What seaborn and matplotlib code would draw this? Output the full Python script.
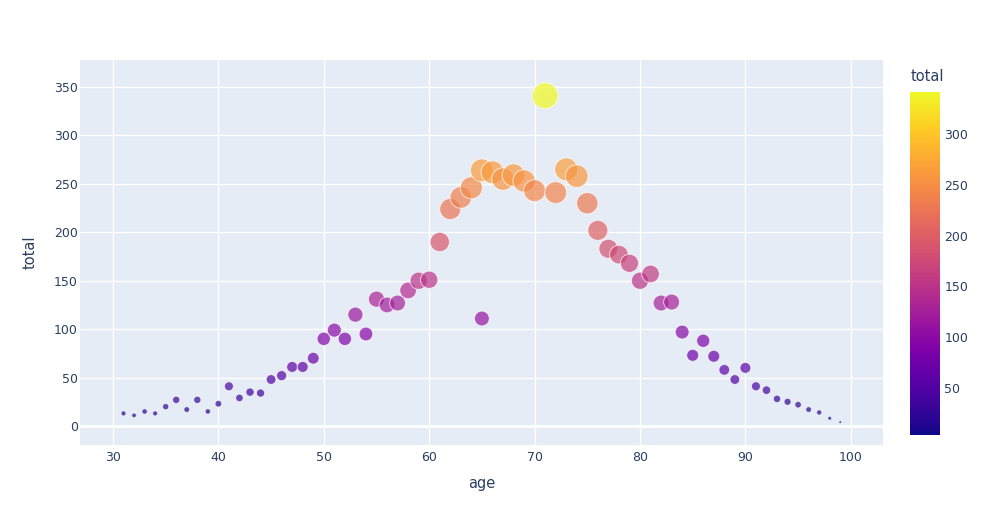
import numpy as np
import pandas as pd
import seaborn as sns
import matplotlib.pyplot as plt
import matplotlib as mpl

# values
age = [31, 32, 33, 34, 35, 36, 37, 38, 39, 40,
       41, 42, 43, 44, 45, 46, 47, 48, 49, 50,
       51, 52, 53, 54, 55, 56, 57, 58, 59, 60,
       61, 62, 63, 64, 65, 65, 66, 67, 68, 69, 70,
       71, 72, 73, 74, 75, 76, 77, 78, 79, 80,
       81, 82, 83, 84, 85, 86, 87, 88, 89, 90,
       91, 92, 93, 94, 95, 96, 97, 98, 99]
total = [13, 11, 15, 13, 20, 27, 17, 27, 15, 23,
         41, 29, 35, 34, 48, 52, 61, 61, 70, 90,
         99, 90, 115, 95, 131, 125, 127, 140, 150, 151,
         190, 224, 236, 246, 264, 111, 262, 255, 259, 253, 243,
         341, 241, 265, 258, 230, 202, 183, 177, 168, 150,
         157, 127, 128, 97, 73, 88, 72, 58, 48, 60,
         41, 37, 28, 25, 22, 17, 14, 8, 4]
cbar_ticks = [50, 100, 150, 200, 250, 300]

data = pd.DataFrame({'age': age, 'total': total})
vmin, vmax = min(total), max(total)

sns.set_style('darkgrid', {'axes.facecolor': '#E5ECF6', 'grid.color': 'white'})
plt.rcParams['font.family'] = ['DejaVu Sans']
txt = '#2a3f5f'

fig = plt.figure(figsize=(9.85, 5.25), dpi=100)
ax = fig.add_axes([0.0812, 0.1524, 0.8152, 0.7333])

ax.axhline(0, color='white', lw=2, zorder=1)
sns.scatterplot(data=data, x='age', y='total', hue='total', palette='plasma',
                hue_norm=(vmin, vmax), size='total', sizes=(0, 350),
                size_norm=(0, vmax), alpha=0.7, edgecolor='white',
                linewidth=0.7, legend=False, ax=ax, zorder=3)

ax.set_xlim(26.87, 103.05)
ax.set_ylim(-19.6, 377.9)
ax.set_xticks([30, 40, 50, 60, 70, 80, 90, 100])
ax.set_yticks([0, 50, 100, 150, 200, 250, 300, 350])
ax.grid(True, color='white', lw=1)
ax.tick_params(length=0, labelsize=9, colors=txt)
ax.tick_params(axis='y', pad=1.5)
ax.tick_params(axis='x', pad=4)
ax.set_xlabel('age', fontsize=10.5, color=txt, labelpad=9)
ax.set_ylabel('total', fontsize=10.5, color=txt, labelpad=12)
for s in ax.spines.values():
    s.set_visible(False)

# colorbar
cax = fig.add_axes([0.924, 0.1714, 0.0305, 0.653])
sm = mpl.cm.ScalarMappable(norm=mpl.colors.Normalize(vmin, vmax), cmap='plasma')
cb = fig.colorbar(sm, cax=cax, ticks=cbar_ticks)
cb.outline.set_visible(False)
cax.tick_params(length=0, labelsize=9, colors=txt, pad=3)
fig.text(0.924, 0.84, 'total', fontsize=10.5, color=txt, ha='left', va='bottom')

fig.savefig('out.png', dpi=100)
